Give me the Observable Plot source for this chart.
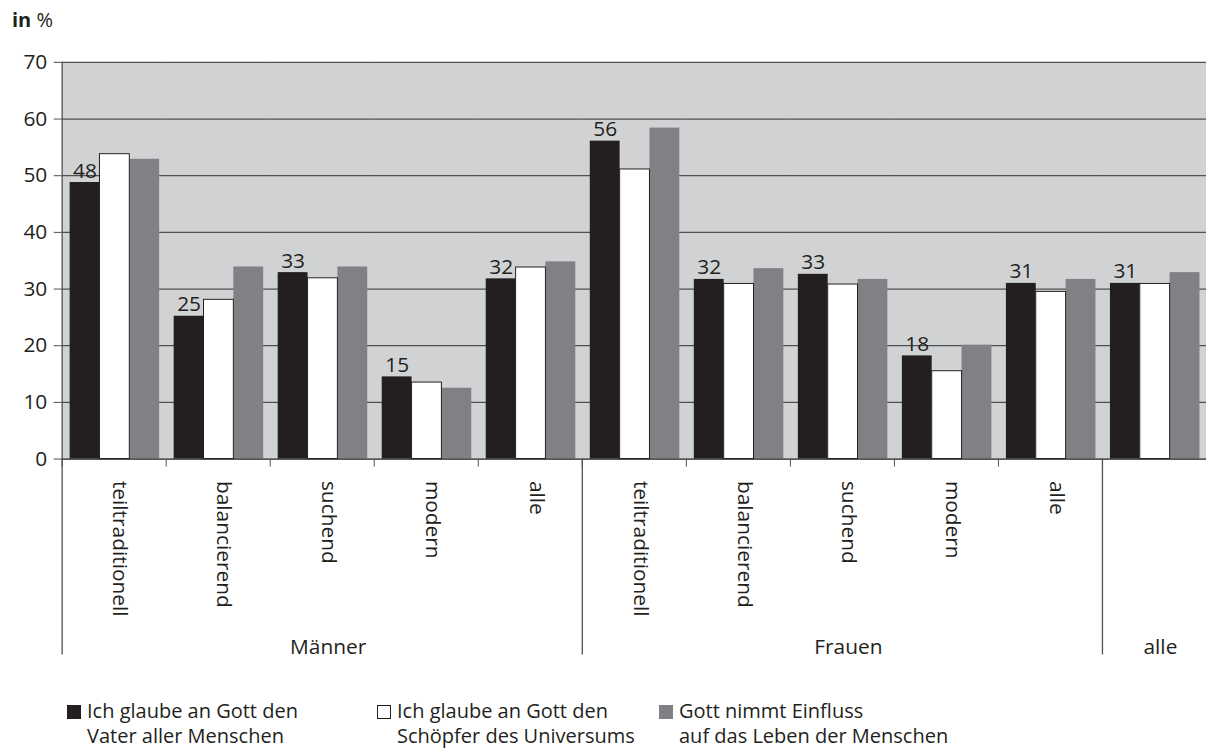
<!DOCTYPE html>
<html>
<head>
<meta charset="utf-8">
<script src="https://cdn.jsdelivr.net/npm/d3@7"></script>
<script src="https://cdn.jsdelivr.net/npm/@observablehq/plot@0.6"></script>
<style>
  html, body { margin: 0; padding: 0; background: #fff; overflow: hidden; }
  body { width: 1206px; height: 749px; position: relative; font-family: "Open Sans", sans-serif; color: #231f20; }
  #title { position: absolute; left: 12px; top: 7px; font-size: 20px; line-height: 26px; }
  #title b { font-weight: 700; }
  #chart { position: absolute; left: 0; top: 40px; }
  .item { position: absolute; top: 700px; font-size: 20px; white-space: nowrap; }
  .sw { position: absolute; left: 0; top: 5px; width: 14px; height: 14px; box-sizing: border-box; }
  .ln { position: absolute; left: 20px; line-height: 22px; }
</style>
</head>
<body>
<div id="title"><b>in</b> %</div>
<div id="chart"></div>
<div id="legend"></div>
<script>
// ---- data ----
const columnGroup = ["Männer","Männer","Männer","Männer","Männer","Frauen","Frauen","Frauen","Frauen","Frauen","alle"];
const columnLabel = ["teiltraditionell","balancierend","suchend","modern","alle","teiltraditionell","balancierend","suchend","modern","alle",""];
const seriesNames = [
  "Ich glaube an Gott den Vater aller Menschen",
  "Ich glaube an Gott den Schöpfer des Universums",
  "Gott nimmt Einfluss auf das Leben der Menschen"
];
const legendLines = [
  ["Ich glaube an Gott den", "Vater aller Menschen"],
  ["Ich glaube an Gott den", "Schöpfer des Universums"],
  ["Gott nimmt Einfluss", "auf das Leben der Menschen"]
];
const vater     = [48.8, 25.2, 32.9, 14.5, 31.8, 56.1, 31.7, 32.6, 18.2, 31.0, 31.0];
const schoepfer = [53.8, 28.1, 31.9, 13.5, 33.8, 51.1, 30.9, 30.8, 15.5, 29.5, 30.9];
const einfluss  = [52.9, 33.9, 33.9, 12.5, 34.8, 58.4, 33.6, 31.7, 20.1, 31.7, 32.9];
const valueLabels = ["48","25","33","15","32","56","32","33","18","31","31"];
const yTicks = [0, 10, 20, 30, 40, 50, 60, 70];
const colors = ["#231f20", "#ffffff", "#808184"];

// ---- build table ----
const keys = columnGroup.map((g, i) => g + "|" + columnLabel[i]);
const seriesValues = [vater, schoepfer, einfluss];
const rows = [];
keys.forEach((k, i) => {
  seriesNames.forEach((s, j) => {
    rows.push({key: k, series: s, value: seriesValues[j][i], label: j === 0 ? valueLabels[i] : ""});
  });
});
const groupNames = [...new Set(columnGroup)];
const groupCenterKey = groupNames.map(g => {
  const ks = keys.filter((k, i) => columnGroup[i] === g);
  return ks[Math.floor(ks.length / 2)];
});
const groupStartKey = groupNames.map(g => keys[columnGroup.indexOf(g)]);

const W = 1213, H = 640, mL = 62, mT = 22, mB = 219;
const bw = (W - mL) / keys.length;
const ink = "#231f20", gridC = "#505052";
const fs = 21;

const chart = Plot.plot({
  width: W, height: H,
  marginLeft: mL, marginRight: 0, marginTop: mT, marginBottom: mB,
  style: {fontFamily: "Open Sans, sans-serif", fontSize: fs + "px", color: ink, background: "transparent", overflow: "visible"},
  fx: {domain: keys, padding: 0, round: false, axis: null, label: null},
  x: {domain: seriesNames, paddingInner: 0, paddingOuter: 0.243, align: 0.55, round: false, axis: null},
  y: {domain: [0, 70], axis: null},
  color: {domain: seriesNames, range: colors},
  marks: [
    Plot.frame({fill: "#d1d2d4", stroke: null, facet: "super"}),
    Plot.ruleY(yTicks.slice(1), {stroke: gridC, strokeWidth: 1.3}),
    Plot.barY(rows, {fx: "key", x: "series", y: "value", fill: "series"}),
    Plot.barY(rows.filter(d => d.series === seriesNames[1]), {fx: "key", x: "series", y: "value", fill: "#ffffff", stroke: ink, strokeWidth: 1}),
    Plot.text(rows.filter(d => d.label !== ""), {fx: "key", x: "series", y: "value", text: "label", lineAnchor: "bottom", dy: -5, fontSize: fs, fill: ink}),
    Plot.ruleY([0], {stroke: ink, strokeWidth: 1.3}),
    Plot.frame({anchor: "left", facetAnchor: "left", stroke: gridC, strokeWidth: 1.3}),
    Plot.axisY({ticks: yTicks, tickSize: 8, tickPadding: 7, fontSize: fs, label: null, stroke: gridC, fill: ink}),
    // boundary ticks between columns
    Plot.axisFx({anchor: "bottom", tickSize: 8, tickFormat: () => "", dx: -bw / 2, stroke: gridC, label: null}),
    // group separators
    Plot.axisFx({anchor: "bottom", ticks: groupStartKey, tickSize: 197, tickFormat: () => "", dx: -bw / 2, stroke: gridC, strokeWidth: 1.3, label: null}),
    // column labels
    Plot.axisFx({anchor: "bottom", tickSize: 0, tickPadding: 22, tickRotate: 90, tickFormat: k => k.split("|")[1], fontSize: fs, dx: 6, fill: ink, label: null}),
    // group labels
    Plot.axisFx({anchor: "bottom", ticks: groupCenterKey, tickSize: 0, tickPadding: 181, tickFormat: k => k.split("|")[0], fontSize: fs, dx: 6, fill: ink, label: null})
  ]
});
document.getElementById("chart").appendChild(chart);

// ---- legend ----
const legendLeft = [67, 377, 659];
const legend = document.getElementById("legend");
seriesNames.forEach((s, j) => {
  const it = document.createElement("div");
  it.className = "item";
  it.style.left = legendLeft[j] + "px";
  const sw = document.createElement("span");
  sw.className = "sw";
  sw.style.background = colors[j];
  if (j === 1) sw.style.border = "1px solid " + ink;
  it.appendChild(sw);
  legendLines[j].forEach((t, r) => {
    const ln = document.createElement("div");
    ln.className = "ln";
    ln.style.top = (r * 25) + "px";
    ln.textContent = t;
    it.appendChild(ln);
  });
  legend.appendChild(it);
});
</script>
</body>
</html>
